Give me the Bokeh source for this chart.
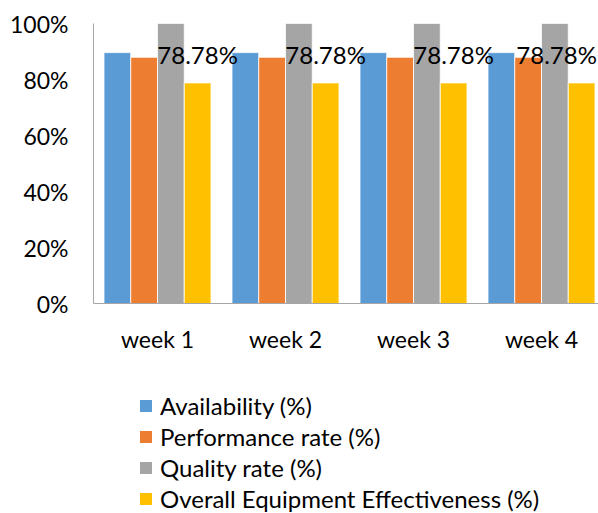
from bokeh.plotting import figure
from bokeh.layouts import column
from bokeh.models import (ColumnDataSource, Range1d, FixedTicker, PrintfTickFormatter,
                          Legend, LegendItem)
from bokeh.transform import dodge
from bokeh.core.properties import value
from bokeh.embed import file_html
from bokeh.resources import INLINE

# Weekly OEE figures (%)
weeks = ["week 1", "week 2", "week 3", "week 4"]
availability = [89.6, 89.6, 89.6, 89.6]
performance = [87.93, 87.93, 87.93, 87.93]
quality = [100.0, 100.0, 100.0, 100.0]
oee = [78.78, 78.78, 78.78, 78.78]

series_names = ["Availability (%)", "Performance rate (%)", "Quality rate (%)",
                "Overall Equipment Effectiveness (%)"]
series_cols = ["availability", "performance", "quality", "oee"]
colors = ["#5b9bd5", "#ed7d31", "#a5a5a5", "#ffc000"]

FONT = "Lato"
CAT_PX = 128          # pixel width of one week slot
LEFT, RIGHT, TOP = 93, 0, 23
W, H = 598, 513
CHART_H = 380         # height of the bar chart; the legend strip fills the rest

centers = [i + 0.5 for i in range(len(weeks))]
# the last value label is nudged left so it stays inside the chart
label_shift = [0, 0, 0, -25]
source = ColumnDataSource(dict(
    x=centers, week=weeks, availability=availability, performance=performance,
    quality=quality, oee=oee, oee_label=[f"{v:.2f}%" for v in oee],
    label_shift=label_shift,
))

p = figure(width=W, height=CHART_H, output_backend="svg", toolbar_location=None,
           x_range=Range1d(0, (W - LEFT - RIGHT) / CAT_PX), y_range=Range1d(0, 100),
           min_border_left=LEFT, min_border_right=RIGHT,
           min_border_top=TOP, min_border_bottom=CHART_H - TOP - 280)
p.outline_line_color = None
p.xgrid.visible = False
p.ygrid.visible = False
p.background_fill_color = "white"
p.border_fill_color = "white"

bar_w = 0.209
offsets = [-1.5 * bar_w, -0.5 * bar_w, 0.5 * bar_w, 1.5 * bar_w]
for col, color, off in zip(series_cols, colors, offsets):
    p.vbar(x=dodge("x", off, range=p.x_range), top=col, bottom=0, width=bar_w,
           source=source, fill_color=color, line_color="white", line_width=0.8)

# OEE value labels above the OEE bars
p.text(x=dodge("x", offsets[3], range=p.x_range), y="oee", text="oee_label", source=source,
       text_font=value(FONT), text_font_size="24px", text_color="black",
       text_align="center", text_baseline="middle", x_offset="label_shift", y_offset=-28)

# axes
p.xaxis.ticker = FixedTicker(ticks=centers)
p.xaxis.major_label_overrides = {c: w for c, w in zip(centers, weeks)}
p.yaxis.ticker = FixedTicker(ticks=[0, 20, 40, 60, 80, 100])
p.yaxis.formatter = PrintfTickFormatter(format="%d%%")
for ax in (p.xaxis[0], p.yaxis[0]):
    ax.axis_line_color = "#a6a6a6"
    ax.axis_line_width = 1
    ax.major_tick_line_color = None
    ax.minor_tick_line_color = None
    ax.major_tick_in = 0
    ax.major_tick_out = 0
    ax.major_label_text_font = FONT
    ax.major_label_text_font_size = "23px"
    ax.major_label_text_color = "black"
p.yaxis.major_label_standoff = 25
p.xaxis.major_label_standoff = 21

# legend strip under the chart (its frame lines up with the chart's frame)
lg = figure(width=W, height=H - CHART_H, output_backend="svg", toolbar_location=None,
            x_range=Range1d(0, 1), y_range=Range1d(0, 1),
            x_axis_type=None, y_axis_type=None,
            min_border_left=0, min_border_right=0, min_border_top=0, min_border_bottom=0)
lg.outline_line_color = None
lg.xgrid.visible = False
lg.ygrid.visible = False
# zero-size bars that only carry each series' swatch style
swatches = [lg.vbar(x=[0], top=[0], bottom=[0], width=0, fill_color=c, line_color=None)
            for c in colors]
legend = Legend(
    items=[LegendItem(label=n, renderers=[r]) for n, r in zip(series_names, swatches)],
    location=(45, 0), orientation="vertical",
    glyph_width=15, glyph_height=15, label_standoff=7, spacing=2,
    padding=0, margin=0, border_line_color=None, background_fill_alpha=0,
    label_text_font=FONT, label_text_font_size="24px", label_text_color="black",
)
lg.add_layout(legend, "center")

open("out.html", "w").write(file_html(column(p, lg, spacing=0), INLINE))
